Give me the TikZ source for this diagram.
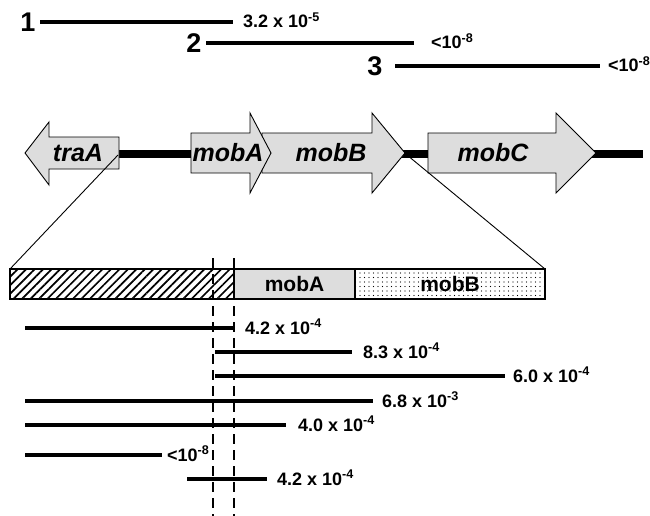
\documentclass[tikz,border=0pt]{standalone}
\usepackage{fontspec}
\setmainfont{Liberation Sans}
\definecolor{genegray}{RGB}{221,221,221}
\usetikzlibrary{patterns.meta}

\tikzset{
  bar/.style={line width=4.2pt},
  backbone/.style={line width=8pt},
  gene/.style={draw=black, fill=genegray, line width=0.9pt, line join=miter},
  genename/.style={inner sep=0pt, font=\fontsize{25}{25}\selectfont\bfseries\itshape},
  fragnum/.style={anchor=base, inner sep=0pt, font=\fontsize{27}{27}\selectfont\bfseries},
  rate/.style={anchor=base west, inner sep=0pt, yshift=-6pt, font=\fontsize{18}{18}\selectfont\bfseries},
  seg/.style={draw=black, line width=1.1pt, minimum height=30pt, inner sep=0pt, outer sep=0pt,
    anchor=north west, font=\fontsize{21}{21}\selectfont\bfseries},
  zoomline/.style={line width=0.9pt},
  cutline/.style={line width=2.4pt, dash pattern=on 10pt off 6pt}
}

\begin{document}
\begin{tikzpicture}[x=1pt,y=1pt]
\useasboundingbox (0,0) rectangle (650,-516);

% fragments of the whole region
\foreach \i/\xn/\xa/\xb/\y/\gap/\r in {
    1/28/40/233/22/8/{3.2 x 10\textsuperscript{-5}},
    2/194/206/414/43/15/{<10\textsuperscript{-8}},
    3/375/395/600/66/6/{<10\textsuperscript{-8}}}{
  \node[fragnum] (n\i) at (\xn,-\y-9.5) {\i};
  \draw[bar] (\xa,-\y) -- (\xb,-\y) node[rate, xshift=\gap pt] (t\i) {\r};
}

% gene map
\draw[backbone] (119,-154) -- (643,-154);
\draw[gene] (119,-137) -- (49,-137) -- (49,-122) -- (25,-153) -- (49,-185) -- (49,-169) -- (119,-169) -- cycle;
\draw[gene] (262,-133) -- (372,-133) -- (372,-113) -- (405,-153) -- (372,-193) -- (372,-173) -- (262,-173) -- cycle;
\draw[gene] (191,-133) -- (250,-133) -- (250,-113) -- (271,-153) -- (250,-193) -- (250,-173) -- (191,-173) -- cycle;
\draw[gene] (428,-133) -- (556,-133) -- (556,-113) -- (596,-153) -- (556,-193) -- (556,-173) -- (428,-173) -- cycle;
\node[genename] (traA) at (78,-153) {traA};
\node[genename] (mobA) at (228,-153) {mobA};
\node[genename] (mobB) at (331,-153) {mobB};
\node[genename] (mobC) at (493,-153) {mobC};

% enlarged part
\node[seg, minimum width=224pt, pattern={Lines[angle=45,distance=6pt,line width=1.7pt]}] (flank) at (10,-269) {};
\node[seg, minimum width=121pt, fill=genegray] (mobAseg) at (flank.north east) {mobA};
\node[seg, minimum width=190pt, pattern={Dots[radius=0.6pt,distance=4.5pt]}] (mobBseg) at (mobAseg.north east) {mobB};

\coordinate (cutL) at (118,-155);
\coordinate (cutR) at (407,-155);
\draw[zoomline] (cutL) -- (flank.north west);
\draw[zoomline] (cutR) -- (mobBseg.north east);

% boundaries of the deletions
\coordinate (leftTop) at (213,-258);
\coordinate (leftEnd) at (213,-516);
\coordinate (rightTop) at (234,-258);
\coordinate (rightEnd) at (234,-516);
\draw[cutline] (leftTop) -- (leftEnd);
\draw[cutline] (rightTop) -- (rightEnd);

% deletion fragments
\foreach \i/\xa/\xb/\y/\gap/\r in {
    1/25/235/328/8/{4.2 x 10\textsuperscript{-4}},
    2/215/352/352/9/{8.3 x 10\textsuperscript{-4}},
    3/215/505/376/6/{6.0 x 10\textsuperscript{-4}},
    4/25/373/401/7/{6.8 x 10\textsuperscript{-3}},
    5/25/286/425/10/{4.0 x 10\textsuperscript{-4}},
    6/25/162/455/3/{<10\textsuperscript{-8}},
    7/187/267/479/8/{4.2 x 10\textsuperscript{-4}}}{
  \draw[bar] (\xa,-\y) -- (\xb,-\y) node[rate, xshift=\gap pt] (d\i) {\r};
}
\end{tikzpicture}
\end{document}
